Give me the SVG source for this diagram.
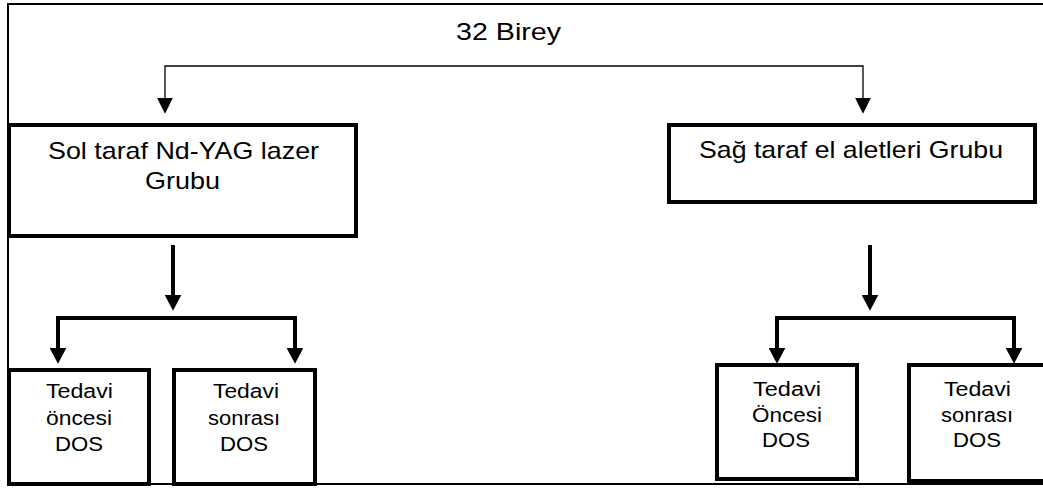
<svg xmlns="http://www.w3.org/2000/svg" width="1043" height="488" viewBox="0 0 1043 488">
  <style>
    .frame { fill: #ffffff; stroke: #000000; stroke-width: 2; }
    .box { fill: #ffffff; stroke: #000000; stroke-width: 4; }
    .big { font-family: "Liberation Sans", Arial, sans-serif; font-size: 24px; fill: #000000; }
    .small { font-family: "Liberation Sans", Arial, sans-serif; font-size: 20px; fill: #000000; }
    .thin { fill: none; stroke: #000000; stroke-width: 1.3; }
    .thick { fill: none; stroke: #000000; stroke-width: 4; stroke-linejoin: miter; }
  </style>
  <defs>
    <marker id="headThin" markerUnits="userSpaceOnUse" markerWidth="16" markerHeight="16" viewBox="0 0 15 15" refX="5" refY="7.5" orient="auto-start-reverse">
      <path d="M0,0 L15,7.5 L0,15 Z" fill="#000000"/>
    </marker>
    <marker id="headThick" markerUnits="userSpaceOnUse" markerWidth="16" markerHeight="17" viewBox="0 0 15 16" refX="5" refY="8" orient="auto-start-reverse">
      <path d="M0,0 L15,8 L0,16 Z" fill="#000000"/>
    </marker>
  </defs>

  <!-- outer frame with title -->
  <g id="root">
    <rect class="frame" x="8" y="4" width="1045" height="480"/>
    <text class="big" x="456" y="40" textLength="105" lengthAdjust="spacingAndGlyphs">32 Birey</text>
  </g>

  <g id="connectors">
    <path class="thin" d="M165,103 V66 H863 V103" marker-start="url(#headThin)" marker-end="url(#headThin)"/>
    <path class="thick" d="M173,245 V300" marker-end="url(#headThick)"/>
    <path class="thick" d="M58,353 V318 H295 V353" marker-start="url(#headThick)" marker-end="url(#headThick)"/>
    <path class="thick" d="M870,245 V300" marker-end="url(#headThick)"/>
    <path class="thick" d="M777,353 V318 H1014 V353" marker-start="url(#headThick)" marker-end="url(#headThick)"/>
  </g>

  <g id="laserGroup">
    <rect class="box" x="9" y="125" width="347" height="111"/>
    <text class="big" x="48" y="159" textLength="271" lengthAdjust="spacingAndGlyphs">Sol taraf Nd-YAG lazer</text>
    <text class="big" x="145" y="189" textLength="75" lengthAdjust="spacingAndGlyphs">Grubu</text>
  </g>

  <g id="handToolGroup">
    <rect class="box" x="669" y="125" width="366" height="77"/>
    <text class="big" x="699" y="158" textLength="304" lengthAdjust="spacingAndGlyphs">Sağ taraf el aletleri Grubu</text>
  </g>

  <g id="laserBefore">
    <rect class="box" x="9" y="370" width="140" height="114"/>
    <text class="small" x="46" y="398" textLength="67" lengthAdjust="spacingAndGlyphs">Tedavi</text>
    <text class="small" x="46" y="425" textLength="66" lengthAdjust="spacingAndGlyphs">öncesi</text>
    <text class="small" x="55" y="451" textLength="48" lengthAdjust="spacingAndGlyphs">DOS</text>
  </g>

  <g id="laserAfter">
    <rect class="box" x="174" y="370" width="141" height="114"/>
    <text class="small" x="213" y="398" textLength="66" lengthAdjust="spacingAndGlyphs">Tedavi</text>
    <text class="small" x="208" y="425" textLength="72" lengthAdjust="spacingAndGlyphs">sonrası</text>
    <text class="small" x="220" y="451" textLength="48" lengthAdjust="spacingAndGlyphs">DOS</text>
  </g>

  <g id="toolBefore">
    <rect class="box" x="717" y="365" width="140" height="114"/>
    <text class="small" x="753" y="396" textLength="68" lengthAdjust="spacingAndGlyphs">Tedavi</text>
    <text class="small" x="752" y="422" textLength="70" lengthAdjust="spacingAndGlyphs">Öncesi</text>
    <text class="small" x="762" y="447" textLength="48" lengthAdjust="spacingAndGlyphs">DOS</text>
  </g>

  <g id="toolAfter">
    <rect class="box" x="909" y="365" width="140" height="116"/>
    <text class="small" x="944" y="396" textLength="67" lengthAdjust="spacingAndGlyphs">Tedavi</text>
    <text class="small" x="941" y="422" textLength="72" lengthAdjust="spacingAndGlyphs">sonrası</text>
    <text class="small" x="953" y="447" textLength="48" lengthAdjust="spacingAndGlyphs">DOS</text>
  </g>
</svg>
